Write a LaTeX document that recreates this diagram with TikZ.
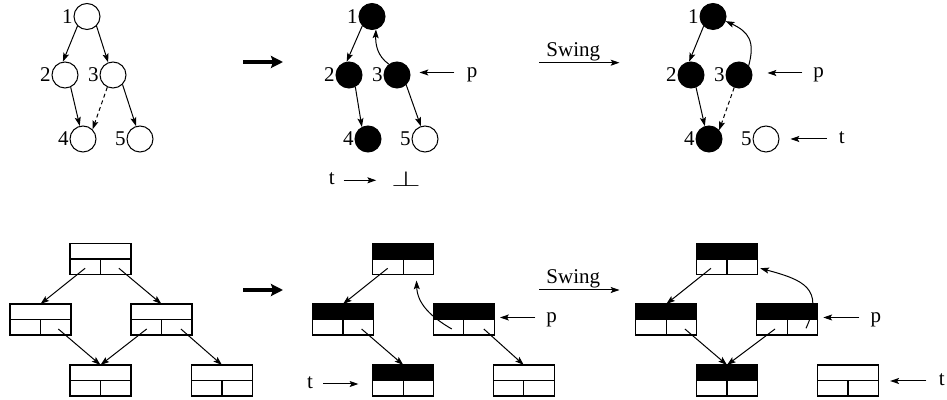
\documentclass[tikz,border=0pt]{standalone}
\usepackage{fontspec}
\setmainfont{Liberation Serif}
\usetikzlibrary{arrows.meta}
\begin{document}
\begin{tikzpicture}[x=0.5pt,y=-0.5pt,
  font=\fontsize{10.5pt}{12pt}\selectfont,
  arr/.style={-{Stealth[length=4.4pt,width=3pt,inset=0.9pt]}, line width=0.5pt},
  bigarr/.style={-{Stealth[length=6pt,width=6pt,inset=1pt]}, line width=2.3pt},
  vtx/.style={circle, draw, line width=0.5pt, minimum size=13pt, inner sep=0pt},
  vtxb/.style={vtx, fill=black},
  num/.style={anchor=east, inner sep=0pt, outer sep=0.4pt},
  lab/.style={anchor=mid, inner sep=0pt},
  dsh/.style={dash pattern=on 2pt off 1.5pt},
  rec/.style={draw, line width=0.6pt, minimum width=30.5pt, minimum height=15.5pt, inner sep=0pt, outer sep=0pt,
    path picture={\draw[line width=0.6pt] (path picture bounding box.west) -- (path picture bounding box.east)
      (path picture bounding box.south) -- (path picture bounding box.center);}},
  recb/.style={rec,
    path picture={\fill[black] (path picture bounding box.north west) rectangle (path picture bounding box.east);
      \draw[line width=0.6pt] (path picture bounding box.west) -- (path picture bounding box.east)
      (path picture bounding box.south) -- (path picture bounding box.center);}}
]
\useasboundingbox (0,0) rectangle (947,400);

% ---------- top row, column 1 ----------
\node[vtx] (A1) at (87,16.5) {};
\node[vtx] (A2) at (65,75) {};
\node[vtx] (A3) at (113,75) {};
\node[vtx] (A4) at (83,139) {};
\node[vtx] (A5) at (140,139) {};
\node[num] (nA1) at (A1.west) {1};
\node[num] (nA2) at (A2.west) {2};
\node[num] (nA3) at (A3.west) {3};
\node[num] (nA4) at (A4.west) {4};
\node[num] (nA5) at (A5.west) {5};
\draw[arr] (A1.-135) -- (A2.99);
\draw[arr] (A1.-45) -- (A3.111);
\draw[arr] (A2.-65) -- (A4.104);
\draw[arr,dsh] (A3.-115) -- (A4.45);
\draw[arr] (A3.-45) -- (A5.107);

\coordinate (T1s) at (243,62);
\coordinate (T1e) at (283,62);
\draw[bigarr] (T1s) -- (T1e);

% ---------- top row, column 2 ----------
\node[vtxb] (B1) at (372,16.5) {};
\node[vtxb] (B2) at (349,75) {};
\node[vtxb] (B3) at (397,75) {};
\node[vtxb] (B4) at (368,139) {};
\node[vtx] (B5) at (425,139) {};
\node[num] (nB1) at (B1.west) {1};
\node[num] (nB2) at (B2.west) {2};
\node[num] (nB3) at (B3.west) {3};
\node[num] (nB4) at (B4.west) {4};
\node[num] (nB5) at (B5.west) {5};
\draw[arr] (B1.-136) -- (B2.100);
\draw[arr] (B3.127) to[out=145,in=-92] (B1.-73);
\draw[arr] (B2.-62) -- (B4.117);
\draw[arr] (B3.-47) -- (B5.108);
\node[lab] (Bp) at (472,72.5) {p};
\draw[arr, shorten <=6pt, shorten >=4.5pt] (Bp.mid west) -- (Bp.mid west -| B3.east);
\node[lab] (Bt) at (331.7,180.3) {t};
\node[inner sep=0pt] (Bbot) at (406,178.5) {\scalebox{1.75}[1]{$\perp$}};
\draw[arr, shorten <=4.25pt, shorten >=7.25pt] (Bt.mid east) -- (Bt.mid east -| Bbot.west);

\coordinate (S1s) at (539,62.7);
\coordinate (S1e) at (619.5,62.7);
\draw[arr] (S1s) -- (S1e);
\node[anchor=base, inner sep=0pt] (S1) at (573.3,56.7) {Swing};

% ---------- top row, column 3 ----------
\node[vtxb] (C1) at (713,16.5) {};
\node[vtxb] (C2) at (691,75) {};
\node[vtxb] (C3) at (739,75) {};
\node[vtxb] (C4) at (709,139) {};
\node[vtx] (C5) at (766,139) {};
\node[num] (nC1) at (C1.west) {1};
\node[num] (nC2) at (C2.west) {2};
\node[num] (nC3) at (C3.west) {3};
\node[num] (nC4) at (C4.west) {4};
\node[num] (nC5) at (C5.west) {5};
\draw[arr] (C1.-134) -- (C2.98);
\draw[arr] (C2.-68) -- (C4.108);
\draw[arr,dsh] (C3.-111) -- (C4.41);
\draw[arr] (C3.44) to[out=75,in=-25,looseness=1.3] (C1.-20);
\node[lab] (Cp) at (818.5,73) {p};
\draw[arr, shorten <=5.25pt, shorten >=7.5pt] (Cp.mid west) -- (Cp.mid west -| C3.east);
\node[lab] (Ct) at (841.7,139) {t};
\draw[arr, shorten <=5.9pt, shorten >=5.5pt] (Ct.mid west) -- (Ct.mid west -| C5.east);

% ---------- bottom row, column 1 ----------
\node[rec] (P1) at (100.5,259) {};
\node[rec] (P2) at (40.5,319.5) {};
\node[rec] (P3) at (161.5,319.5) {};
\node[rec] (P4) at (100.5,380.5) {};
\node[rec] (P5) at (222,380.5) {};
\draw[arr] ([shift={(-7.7pt,-4.65pt)}]P1.center) -- (P2.north);
\draw[arr] ([shift={(9.2pt,-4.65pt)}]P1.center) -- (P3.north);
\draw[arr] ([shift={(8.9pt,-4.75pt)}]P2.center) -- (P4.north);
\draw[arr] ([shift={(-7.4pt,-4.75pt)}]P3.center) -- (P4.north);
\draw[arr] ([shift={(9.7pt,-4.75pt)}]P3.center) -- (P5.north);

\coordinate (T2s) at (243,290);
\coordinate (T2e) at (283,290);
\draw[bigarr] (T2s) -- (T2e);

% ---------- bottom row, column 2 ----------
\node[recb] (Q1) at (403.3,259) {};
\node[recb] (Q2) at (343,319.5) {};
\node[recb] (Q3) at (463.8,319.5) {};
\node[recb] (Q4) at (403.3,380.5) {};
\node[rec] (Q5) at (523.8,380.5) {};
\draw[arr] ([shift={(-7.8pt,-4.65pt)}]Q1.center) -- (Q2.north);
\draw[arr] ([shift={(9.3pt,-4.75pt)}]Q2.center) -- (Q4.north);
\draw[arr] ([shift={(10pt,-4.75pt)}]Q3.center) -- (Q5.north);
\draw[arr] ([shift={(-6pt,-4.75pt)}]Q3.center) to[out=150,in=-88] ([shift={(6.6pt,-3pt)}]Q1.south);
\node[lab] (Qp) at (551.7,317.5) {p};
\draw[arr, shorten <=5.35pt, shorten >=2.85pt] (Qp.mid west) -- (Qp.mid west -| Q3.east);
\node[lab] (Qt) at (310,384) {t};
\draw[arr, shorten <=4.9pt, shorten >=7.2pt] (Qt.mid east) -- (Qt.mid east -| Q4.west);

\coordinate (S2s) at (539,290);
\coordinate (S2e) at (619.5,290);
\draw[arr] (S2s) -- (S2e);
\node[anchor=base, inner sep=0pt] (S2) at (573.3,283.5) {Swing};

% ---------- bottom row, column 3 ----------
\node[recb] (R1) at (727,259) {};
\node[recb] (R2) at (666.3,319.5) {};
\node[recb] (R3) at (787.2,319.5) {};
\node[recb] (R4) at (727,380.5) {};
\node[rec] (R5) at (848,380.5) {};
\draw[arr] ([shift={(-8pt,-4.65pt)}]R1.center) -- (R2.north);
\draw[arr] ([shift={(9.3pt,-4.75pt)}]R2.center) -- (R4.north);
\draw[arr] ([shift={(-6.1pt,-4.75pt)}]R3.center) -- (R4.north);
\draw[arr] ([shift={(9.4pt,-4.4pt)}]R3.center) to[out=65,in=-15,looseness=1.5] ([shift={(1.35pt,-4.65pt)}]R1.east);
\node[lab] (Rp) at (875.8,317.5) {p};
\draw[arr, shorten <=5.4pt, shorten >=2.8pt] (Rp.mid west) -- (Rp.mid west -| R3.east);
\node[lab] (Rt) at (941.7,381) {t};
\draw[arr, shorten <=6pt, shorten >=5.85pt] (Rt.mid west) -- (Rt.mid west -| R5.east);
\end{tikzpicture}
\end{document}
